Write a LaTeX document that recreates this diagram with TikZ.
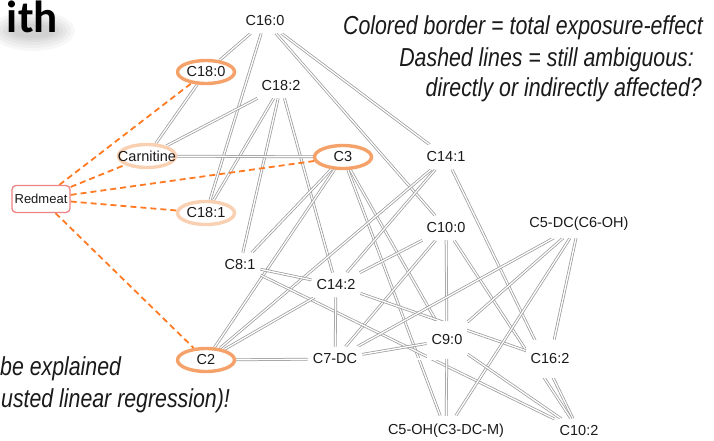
\documentclass[tikz,border=0pt]{standalone}
\usepackage{fontspec}
\setmainfont{Liberation Sans}
\newfontfamily\titlefont{Carlito}
\usetikzlibrary{shapes.geometric,backgrounds}

\definecolor{edgegray}{HTML}{9C9C9C}
\definecolor{strongor}{HTML}{F5A26A}
\definecolor{lightor}{HTML}{FAD0B2}
\definecolor{dashor}{HTML}{FF7A22}
\definecolor{meatred}{HTML}{F08484}
\definecolor{inktext}{HTML}{1A1A1A}

\begin{document}
\begin{tikzpicture}[x=1pt,y=-1pt,
  lbl/.style={font=\fontsize{14.5}{16}\selectfont, text=inktext, fill=white,
    inner xsep=5pt, inner ysep=7pt},
  oval/.style={ellipse, line width=3.4pt, fill=white, minimum width=57pt,
    minimum height=23pt, inner sep=0pt},
  hot/.style={oval, draw=strongor},
  mild/.style={oval, draw=lightor},
  ovtext/.style={font=\fontsize{14.5}{16}\selectfont, text=inktext, inner sep=0pt},
  meat/.style={rectangle, rounded corners=4pt, draw=meatred, line width=1.3pt,
    fill=white, minimum width=58pt, minimum height=27pt, inner sep=0pt,
    font=\fontsize{13}{15}\selectfont, text=inktext},
  link/.style={draw=edgegray, line width=0.75pt, double=white, double distance=1.3pt},
  maybe/.style={draw=dashor, line width=1.8pt, dash pattern=on 6pt off 4pt},
  note/.style={font=\fontsize{26}{30}\selectfont\itshape, xscale=0.82,
    inner sep=0pt, text=inktext},
  headline/.style={font=\titlefont\bfseries\fontsize{45}{45}\selectfont, inner sep=0pt},
  glow/.style={fill=black, opacity=0.03},
]
\useasboundingbox (0,0) rectangle (714,441);

% heading fragment
\node[headline, text=black, anchor=base east] (ttl) at (58,33) {ith};

% legend and remarks
\node[note, anchor=base east] (n1) at (703,35) {Colored border = total exposure-effect};
\node[note, anchor=base east] (n2) at (694,67) {Dashed lines = still ambiguous:};
\node[note, anchor=base east] (n3) at (702,97) {directly or indirectly affected?};
\node[note, anchor=base west] (n4) at (0,375) {be explained};
\node[note, anchor=base west] (n5) at (1,407) {usted linear regression)!};

% metabolite nodes
\node[lbl] (c160) at (265,21) {C16:0};
\node[hot] (c180) at (206,72) {};
\node[ovtext] (c180-t) at (c180) {C18:0};
\node[lbl] (c182) at (281,86) {C18:2};
\node[mild] (carn) at (147,156) {};
\node[ovtext] (carn-t) at (carn) {Carnitine};
\node[hot] (c3) at (343,157) {};
\node[ovtext] (c3-t) at (c3) {C3};
\node[lbl] (c141) at (446,157) {C14:1};
\node[meat] (red) at (41,199) {Redmeat};
\node[mild] (c181) at (206,213) {};
\node[ovtext] (c181-t) at (c181) {C18:1};
\node[lbl] (c100) at (446,228) {C10:0};
\node[lbl] (c5dc) at (579,224) {C5-DC(C6-OH)};
\node[lbl] (c81) at (240,265) {C8:1};
\node[lbl] (c142) at (336,285) {C14:2};
\node[lbl, minimum width=40pt, minimum height=38pt] (c90) at (447,340) {C9:0};
\node[hot] (c2) at (206,360) {};
\node[ovtext] (c2-t) at (c2) {C2};
\node[lbl] (c7dc) at (335,359) {C7-DC};
\node[lbl, minimum height=38pt] (c162) at (550,359) {C16:2};
\node[fill=white, minimum width=48pt, minimum height=30pt, inner sep=0pt] (c5oh) at (446,431) {};
\node[ovtext] (c5oh-t) at (c5oh) {C5-OH(C3-DC-M)};
\node[lbl] (c102) at (579,431) {C10:2};

\begin{scope}[on background layer]
  \fill[white] (0,0) rectangle (714,441);
  % soft shadow under the heading
  \foreach \rx/\ry in {42/20, 38/17, 34/14, 30/11, 26/9, 22/7}
    \fill[glow] (33,31) ellipse [x radius=\rx, y radius=\ry];
  % correlations between metabolites
  \foreach \a/\b in {
      c160/c180, c160/c181, c160/c141, c160/c100,
      c180/c181, c180/carn,
      c182/carn, c182/c181, c182/c81, c182/c142,
      carn/c3,
      c3/c81, c3/c2, c3/c90, c3/c5oh,
      c141/c100, c141/c2, c141/c142, c141/c102,
      c100/c90, c100/c142, c100/c7dc, c100/c102,
      c181/c2,
      c81/c142, c81/c102,
      c142/c2, c142/c7dc, c142/c162,
      c2/c7dc,
      c7dc/c90, c7dc/c162, c7dc/c5dc,
      c5dc/c90, c5dc/c5oh, c5dc/c162, c5dc/c102,
      c90/c5oh, c90/c102,
      c5oh/c102}
    \draw[link] (\a) -- (\b);
  % exposure links
  \foreach \b in {c180, carn, c3, c181, c2}
    \draw[maybe] (red) -- (\b);
\end{scope}
\end{tikzpicture}
\end{document}
